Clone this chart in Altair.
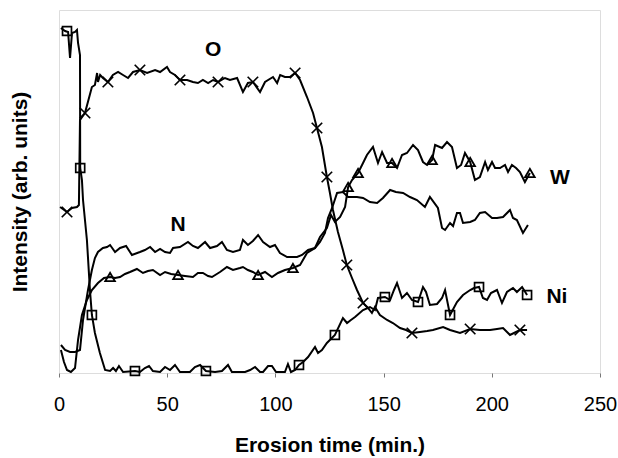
import altair as alt
import pandas as pd

# ---- data (x = erosion time in min, y = intensity in arbitrary units) ----
o_x = [0.5, 3.7, 6.0, 8.3, 9.2, 9.7, 12.0, 15.2, 16.6, 17.6, 18.0, 19.0, 20.3, 22.6, 24.9, 27.3, 29.6,
       31.9, 34.2, 37.4, 40.7, 44.4, 46.7, 49.9, 51.3, 53.6, 55.9, 59.2, 61.9, 64.2, 66.5, 68.9, 71.2,
       73.5, 76.7, 79.0, 82.3, 85.0, 87.3, 89.6, 92.9, 95.2, 98.9, 100.8, 102.2, 104.4, 106.7, 109.1,
       111.4, 114.6, 117.4, 119.2, 121.5, 123.8, 125.2, 126.6, 128.9, 131.2, 133.0, 135.4, 137.7,
       140.5, 142.8, 144.6, 146.0, 148.3, 151.6, 154.3, 157.6, 160.4, 163.1, 166.8, 170.1, 172.8,
       177.5, 180.7, 185.3, 190.0, 194.5, 199.2, 202.4, 205.2, 208.4, 213.0, 216.3]
o_y = [166, 161, 165, 166, 168, 253, 260, 286, 288, 300, 291, 298, 295, 291, 298, 301, 298,
       295, 301, 303, 300, 303, 301, 306, 301, 298, 293, 293, 291, 290, 293, 290, 293,
       291, 295, 293, 295, 281, 290, 291, 281, 291, 296, 290, 298, 296, 296, 300,
       293, 276, 260, 245, 226, 196, 180, 163, 141, 123, 108, 95, 83,
       70, 65, 60, 66, 58, 53, 50, 45, 43, 40, 41, 42, 43,
       46, 43, 40, 44, 43, 43, 44, 45, 38, 43, 43]

n_x = [0.9, 2.8, 5.1, 7.4, 9.7, 11.1, 13.4, 15.2, 16.6, 18.0, 20.3, 22.2, 23.6, 25.9, 28.2, 31.0,
       33.7, 37.4, 39.7, 42.1, 44.4, 46.7, 49.0, 51.3, 52.7, 55.9, 59.6, 61.9, 64.2, 67.5, 69.8,
       73.0, 75.3, 77.6, 80.4, 83.6, 85.0, 87.3, 89.6, 92.0, 94.3, 97.5, 99.8, 102.1, 105.4, 110.0,
       112.3, 115.1, 118.3, 120.6, 122.9, 124.3, 126.2, 128.5, 131.2, 133.6, 137.7, 140.5, 143.7,
       147.0, 149.7, 153.0, 155.7, 159.0, 162.2, 165.4, 169.1, 171.4, 175.1, 177.0, 178.4, 180.7,
       182.1, 183.9, 185.3, 186.7, 190.0, 192.2, 194.5, 196.9, 200.1, 202.4, 205.2, 208.4, 209.8,
       211.6, 214.4, 216.7]
n_y = [28, 23, 21, 21, 23, 53, 83, 103, 115, 121, 125, 126, 128, 121, 125, 127,
       118, 121, 123, 126, 121, 124, 121, 120, 125, 126, 131, 127, 125, 131, 125,
       127, 131, 123, 121, 123, 133, 128, 132, 138, 131, 126, 128, 120, 116, 116,
       118, 123, 125, 131, 140, 155, 165, 180, 181, 176, 176, 175, 171,
       170, 175, 183, 181, 180, 176, 173, 166, 176, 165, 145, 143, 150,
       147, 160, 160, 150, 151, 153, 160, 161, 155, 155, 156, 163, 155,
       153, 140, 148]

w_x = [0.9, 2.3, 3.7, 5.5, 7.4, 8.8, 10.6, 12.9, 15.2, 18.0, 20.8, 23.6, 25.9, 28.2, 30.5, 32.8,
       36.0, 38.8, 41.1, 43.4, 46.7, 49.0, 51.8, 55.0, 58.2, 61.9, 64.2, 66.5, 68.9, 70.7, 74.4,
       77.6, 80.4, 83.6, 85.0, 87.3, 89.6, 92.0, 95.2, 98.4, 101.2, 104.4, 108.1, 111.4, 114.6,
       118.3, 120.6, 123.8, 125.7, 127.5, 129.9, 132.2, 133.6, 135.4, 138.2, 140.5, 142.3, 145.1,
       147.4, 149.3, 151.6, 153.9, 156.2, 158.5, 160.8, 163.6, 165.9, 168.2, 170.1, 172.4, 173.8,
       177.0, 179.3, 181.6, 183.9, 185.8, 187.6, 190.0, 192.2, 194.5, 196.9, 198.2, 200.1, 201.5,
       203.8, 206.1, 207.5, 209.3, 211.2, 213.0, 215.3, 217.6]
w_y = [23, 11, 3, 1, 5, 33, 58, 73, 83, 90, 95, 96, 95, 96, 99, 101,
       104, 100, 102, 103, 98, 101, 99, 98, 97, 96, 100, 100, 97, 96, 101,
       106, 103, 105, 106, 103, 101, 98, 101, 96, 100, 103, 105, 108, 120,
       125, 136, 145, 158, 151, 156, 166, 186, 193, 200, 210, 218, 226,
       210, 221, 210, 210, 205, 218, 220, 228, 223, 211, 208, 213, 228,
       225, 231, 226, 205, 208, 220, 211, 193, 196, 211, 203, 211, 205,
       205, 208, 201, 208, 205, 201, 191, 200]

ni_x = [0.9, 2.8, 4.2, 5.1, 6.0, 7.4, 8.3, 8.8, 9.7, 9.8, 10.6, 11.1, 12.9, 14.3, 15.2, 16.6, 18.9,
        21.3, 23.6, 25.0, 26.3, 27.7, 29.6, 35.1, 37.4, 39.7, 41.6, 43.4, 46.7, 49.0, 51.3, 53.6,
        55.9, 60.5, 62.8, 65.2, 67.9, 72.1, 75.3, 78.1, 79.9, 86.0, 88.3, 90.6, 92.9, 94.3, 96.6,
        98.4, 100.3, 104.4, 105.8, 107.2, 109.1, 110.9, 112.8, 115.1, 118.3, 119.7, 121.5, 123.8,
        127.5, 131.2, 133.1, 134.9, 136.8, 140.5, 143.7, 146.0, 147.4, 150.6, 153.0, 154.8, 156.2,
        158.5, 160.8, 163.1, 165.9, 168.2, 169.6, 171.4, 174.7, 177.0, 178.4, 180.7, 183.9, 186.7,
        190.0, 191.8, 194.1, 195.9, 197.8, 199.6, 202.4, 204.7, 207.0, 209.8, 211.6, 214.0, 216.3]
ni_y = [345, 342, 341, 315, 340, 341, 343, 330, 318, 205, 193, 173, 133, 83, 58, 40, 20,
        3, 2, 5, 2, 7, 1, 2, 1, 5, 7, 2, 1, 6, 3, 8,
        1, 1, 6, 8, 2, 1, 2, 8, 1, 1, 3, 6, 1, 1, 7,
        7, 1, 1, 9, 1, 3, 8, 11, 16, 26, 20, 23, 30,
        38, 55, 50, 53, 56, 63, 66, 63, 75, 76, 73, 83, 90,
        75, 80, 73, 71, 86, 81, 68, 69, 75, 83, 58, 71, 78,
        83, 85, 86, 75, 73, 80, 83, 70, 81, 85, 81, 86, 78]

# marker positions (points on the curves)
o_mx = [3.7, 12.0, 22.6, 37.4, 55.9, 73.5, 89.6, 109.1, 119.2, 123.8, 133.0, 140.5, 163.1, 190.0, 213.0]
o_my = [161, 260, 291, 303, 293, 291, 291, 300, 245, 196, 108, 70, 40, 44, 43]
w_mx = [23.6, 55.0, 92.0, 108.1, 133.6, 138.2, 153.9, 172.4, 190.0, 217.6]
w_my = [96, 98, 98, 105, 186, 200, 210, 213, 211, 200]
ni_mx = [3.7, 9.8, 15.2, 35.1, 67.9, 110.9, 127.5, 150.6, 165.9, 180.7, 194.1, 216.3]
ni_my = [342, 205, 58, 2, 2, 8, 38, 76, 71, 58, 86, 78]

label_text = ["O", "N", "W", "Ni"]
label_x = [71.2, 55.0, 231.5, 230.1]
label_y = [323, 148, 195, 76]

x_ticks = [0, 50, 100, 150, 200, 250]

# ---- build tables ----
def series(name, xs, ys):
    return pd.DataFrame({"t": xs, "v": ys, "series": name, "idx": range(len(xs))})

lines_df = pd.concat([series("O", o_x, o_y), series("N", n_x, n_y),
                      series("W", w_x, w_y), series("Ni", ni_x, ni_y)], ignore_index=True)
o_m = pd.DataFrame({"t": o_mx, "v": o_my})
w_m = pd.DataFrame({"t": w_mx, "v": w_my})
ni_m = pd.DataFrame({"t": ni_mx, "v": ni_my})
lab_df = pd.DataFrame({"t": label_x, "v": label_y, "text": label_text})

FONT = "Liberation Sans"
xscale = alt.Scale(domain=[0, 250], nice=False, zero=False)
yscale = alt.Scale(domain=[0, 363], nice=False, zero=False)

X = alt.X("t:Q", scale=xscale,
          axis=alt.Axis(title="Erosion time (min.)", values=x_ticks, grid=False, domain=False,
                        tickSize=4, tickColor="#777", labelFontSize=20, labelFont=FONT,
                        labelColor="black", labelPadding=17, titleFont=FONT, titleFontSize=21,
                        titleFontWeight="bold", titleColor="black", titlePadding=20,
                        labelFlush=False))
Y = alt.Y("v:Q", scale=yscale,
          axis=alt.Axis(title="Intensity (arb. units)", labels=False, ticks=False, grid=False,
                        domain=False, titleFont=FONT, titleFontSize=21, titleFontWeight="bold",
                        titleColor="black", titlePadding=29))

lines = alt.Chart(lines_df).mark_line(color="black", strokeWidth=2, clip=False).encode(
    x=X, y=Y, detail="series:N", order="idx:Q")

o_marks = alt.Chart(o_m).mark_point(shape="M-1,-1L1,1M-1,1L1,-1", size=110, color="black",
                                    strokeWidth=1.7, filled=False, opacity=1).encode(
    x=alt.X("t:Q", scale=xscale), y=alt.Y("v:Q", scale=yscale))
w_marks = alt.Chart(w_m).mark_point(shape="triangle-up", size=90, color="black",
                                    strokeWidth=1.9, filled=False, opacity=1).encode(
    x=alt.X("t:Q", scale=xscale), y=alt.Y("v:Q", scale=yscale))
ni_marks = alt.Chart(ni_m).mark_point(shape="square", size=80, color="black",
                                      strokeWidth=1.7, filled=False, opacity=1).encode(
    x=alt.X("t:Q", scale=xscale), y=alt.Y("v:Q", scale=yscale))

labels = alt.Chart(lab_df).mark_text(font=FONT, fontSize=21, fontWeight="bold", color="black",
                                     align="center", baseline="middle").encode(
    x=alt.X("t:Q", scale=xscale), y=alt.Y("v:Q", scale=yscale), text="text:N")

chart = alt.layer(lines, o_marks, w_marks, ni_marks, labels).properties(
    width=541, height=363,
    autosize=alt.AutoSizeParams(type="none"),
    padding={"left": 59, "top": 10, "right": 18, "bottom": 85},
).configure_view(stroke="black", strokeWidth=1.8).configure(background="white")

chart.save("out.html", embed_options={"renderer": "svg", "actions": False})
